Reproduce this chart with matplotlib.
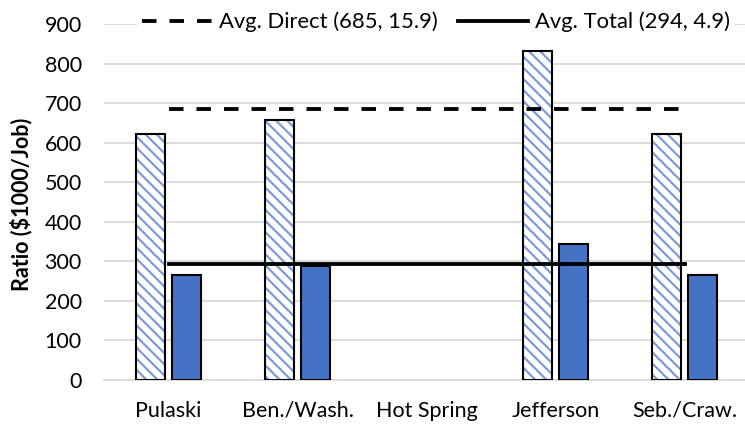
import matplotlib
matplotlib.use("Agg")
import matplotlib.pyplot as plt
import numpy as np

plt.rcParams['font.family'] = ['Lato', 'DejaVu Sans']
plt.rcParams['hatch.linewidth'] = 1.6
plt.rcParams['hatch.color'] = '#7C9CD9'

categories = ["Pulaski", "Ben./Wash.", "Hot Spring", "Jefferson", "Seb./Craw."]
direct_vals = [623, 657, 0, 832, 623]
total_vals = [265, 289, 0, 345, 265]
avg_direct = 685
avg_total = 294
avg_direct_label = "Avg. Direct (685, 15.9)"
avg_total_label = "Avg. Total (294, 4.9)"
yticks = [0, 100, 200, 300, 400, 500, 600, 700, 800, 900]

W, H = 745, 426
fig = plt.figure(figsize=(W / 100, H / 100), dpi=100)
ax = fig.add_axes([104 / W, 46 / H, 641 / W, 356 / H])

x = np.arange(len(categories))
bw = 0.225
off = 0.143

# hatched "direct" bars (hatch drawn first, black outline on top)
mask = [v > 0 for v in direct_vals]
xd = x[mask] - off
vd = [v for v, m in zip(direct_vals, mask) if m]
ax.bar(xd, vd, width=bw, color='white', edgecolor='#7C9CD9', hatch='\\\\\\',
       linewidth=0, zorder=2)
ax.bar(xd, vd, width=bw, fill=False, edgecolor='black', linewidth=1.5, zorder=3)

xt = x[mask] + off
vt = [v for v, m in zip(total_vals, mask) if m]
ax.bar(xt, vt, width=bw, color='#4472C4', edgecolor='black', linewidth=1.5, zorder=3)

l1, = ax.plot([x[0], x[-1]], [avg_direct, avg_direct], color='black', lw=2.75,
              linestyle=(0, (3.8, 3.4)), zorder=4, label=avg_direct_label)
l2, = ax.plot([x[0], x[-1]], [avg_total, avg_total], color='black', lw=2.75,
              zorder=4, label=avg_total_label)

ax.set_xlim(-0.5, -0.5 + 641 / 129)
ax.set_ylim(0, 900)
ax.set_yticks(yticks)
ax.set_xticks(x)
ax.set_xticklabels(categories)
ax.tick_params(axis='both', length=0, labelsize=15.5, colors='black')
ax.tick_params(axis='y', pad=16)
ax.tick_params(axis='x', pad=15)
ax.yaxis.grid(True, color='#D9D9D9', lw=1.3, zorder=0)
ax.set_axisbelow(True)
for s in ['top', 'right', 'left']:
    ax.spines[s].set_visible(False)
ax.spines['bottom'].set_color('#D9D9D9')
ax.spines['bottom'].set_linewidth(1.3)

ax.set_ylabel("Ratio ($1000/Job)", fontsize=15.5, fontweight='bold')
ax.yaxis.set_label_coords(32 / W, 1 - 204 / H, transform=fig.transFigure)

leg = ax.legend(handles=[l1, l2], loc='center left',
                bbox_to_anchor=(137 / W, 1 - 22 / H), bbox_transform=fig.transFigure,
                ncol=2, frameon=True, fancybox=False, edgecolor='none',
                facecolor='white', framealpha=1, fontsize=15.8,
                handlelength=3.2, handletextpad=0.3, columnspacing=0.9,
                borderpad=0.25, borderaxespad=0)
leg.set_zorder(10)

fig.savefig("out.png", dpi=100)
